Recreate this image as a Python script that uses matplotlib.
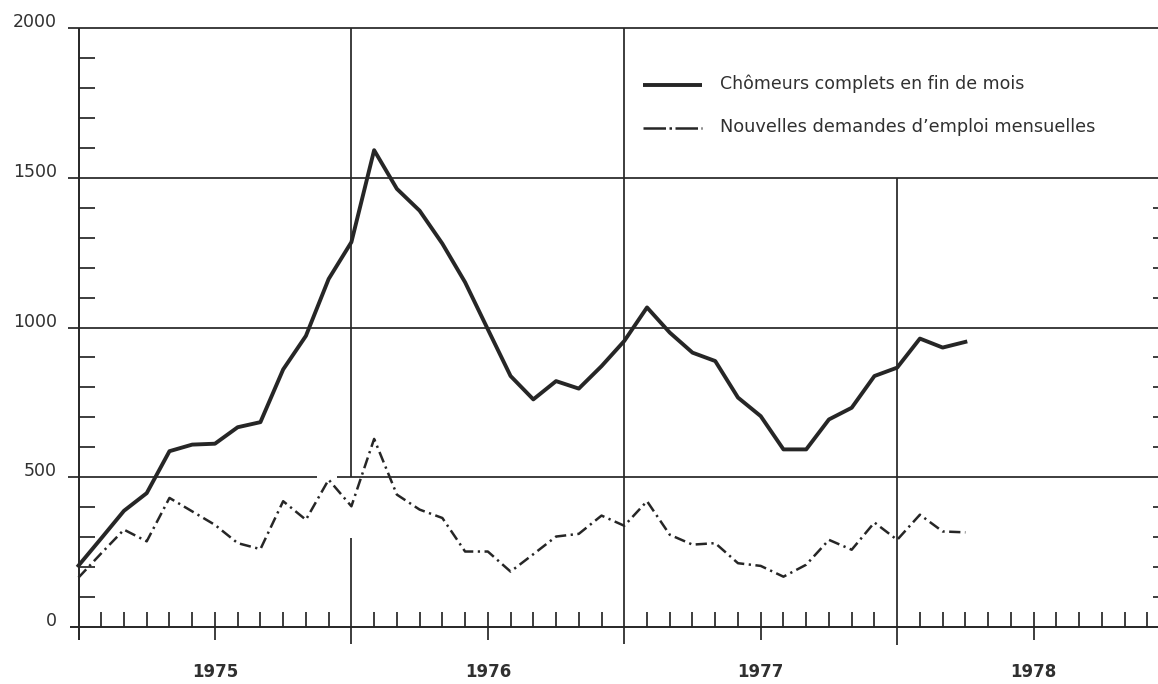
import numpy as np
import matplotlib
matplotlib.use('Agg')
import matplotlib.pyplot as plt

# mois depuis janvier 1975 (0 = janv. 1975)
mois = list(range(40))

# Chômeurs complets en fin de mois
chomeurs = [205, 296, 388, 447, 587, 609, 612, 667, 684, 860,
            972, 1162, 1285, 1592, 1463, 1390, 1280, 1151, 994, 838,
            760, 821, 796, 871, 955, 1067, 983, 916, 888, 766,
            704, 593, 593, 693, 732, 838, 866, 963, 933, 952]

# Nouvelles demandes d'emploi mensuelles
demandes = [165, 246, 325, 286, 431, 386, 341, 280, 260, 420,
            358, 492, 403, 628, 442, 392, 364, 252, 252, 185,
            243, 302, 311, 372, 338, 420, 308, 275, 280, 213,
            204, 168, 208, 291, 258, 349, 291, 375, 319, 316]

annees = ['1975', '1976', '1977', '1978']
y_labels = [0, 500, 1000, 1500, 2000]

noir = '#262626'
texte = '#303030'
xmax = 47.47

fig = plt.figure(figsize=(11.58, 6.84), dpi=100)
ax = fig.add_axes([78.5 / 1158, 1 - 627 / 684, 1 - 78.5 / 1158, (627 - 28) / 684])
ax.set_xlim(0, xmax)
ax.set_ylim(0, 2000)
ax.axis('off')

def seg(x, y, lw=1.25):
    ax.plot(x, y, color=noir, lw=lw, clip_on=False, solid_capstyle='butt')

# axes
seg([0, 0], [-45, 2000], lw=1.4)
seg([-0.38, xmax], [0, 0], lw=1.4)

# lignes horizontales
for v in [1000, 1500, 2000]:
    seg([-0.45, xmax], [v, v])
seg([-0.45, 10.5], [500, 500])
seg([11.35, xmax], [500, 500])

# lignes verticales des années
seg([12, 12], [-57, 297])
seg([12, 12], [500, 2000])
seg([24, 24], [-57, 2000])
seg([36, 36], [-60, 1500])

# graduations de gauche et de droite
for v in range(100, 2000, 100):
    if v % 500 == 0:
        continue
    seg([0, 0.72], [v, v])
    if v < 1500:
        seg([xmax - 0.22, xmax], [v, v])

# graduations des mois
for m in range(1, 48):
    if m % 12 == 0:
        continue
    if m % 6 == 0:
        seg([m, m], [-43, 50])
    else:
        seg([m, m], [0, 50])

# étiquettes
for v in y_labels:
    ax.text(-0.95, v + 20, str(v), ha='right', va='center', fontsize=12.5, color=texte)
for i, a in enumerate(annees):
    ax.text(6 + 12 * i, -150, a, ha='center', va='center', fontsize=12,
            color=texte, fontweight='bold')

# courbes
ax.plot(mois, chomeurs, color=noir, lw=2.8, solid_joinstyle='round', clip_on=False)
ax.plot(mois, demandes, color=noir, lw=1.8, dashes=(4.5, 1.8, 0.9, 1.8), clip_on=False)

# légende
ax.plot([24.82, 27.42], [1810, 1810], color=noir, lw=2.8, solid_capstyle='butt')
ax.plot([24.82, 27.42], [1666, 1666], color=noir, lw=1.8, dashes=(9, 1.4, 1, 1.4))
ax.text(28.21, 1815, 'Chômeurs complets en fin de mois', va='center', fontsize=12.5, color=texte)
ax.text(28.21, 1671, "Nouvelles demandes d\u2019emploi mensuelles", va='center', fontsize=12.8, color=texte)

fig.savefig('out.png', dpi=100)
